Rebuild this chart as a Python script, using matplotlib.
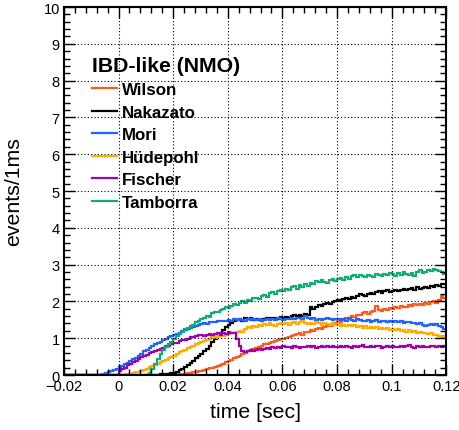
import matplotlib
matplotlib.use('Agg')
import matplotlib.pyplot as plt
import numpy as np
from matplotlib.ticker import MultipleLocator, AutoMinorLocator

plt.rcParams['font.family'] = ['Liberation Sans', 'DejaVu Sans']

# 1 ms bins from -20 ms to 120 ms
bin_edges = np.round(np.arange(-20, 121) * 0.001, 4)

wilson = [0.0] * 40 + [
    0.01, 0.01, 0.02, 0.03, 0.04, 0.05, 0.06, 0.08, 0.09, 0.11,
    0.12, 0.14, 0.16, 0.18, 0.20, 0.22, 0.25, 0.28, 0.31, 0.34,
    0.37, 0.41, 0.45, 0.49, 0.53, 0.57, 0.60, 0.64, 0.68, 0.71,
    0.74, 0.77, 0.80, 0.83, 0.85, 0.88, 0.90, 0.92, 0.95, 0.97,
    0.99, 1.01, 1.04, 1.06, 1.08, 1.11, 1.13, 1.10, 1.16, 1.18,
    1.21, 1.19, 1.24, 1.27, 1.25, 1.30, 1.34, 1.32, 1.38, 1.42,
    1.46, 1.44, 1.50, 1.55, 1.53, 1.60, 1.58, 1.64, 1.62, 1.68,
    1.72, 1.66, 1.70, 1.74, 1.88, 1.76, 1.73, 1.79, 1.77, 1.82,
    1.80, 1.85, 1.83, 1.88, 1.86, 1.84, 1.90, 1.87, 1.92, 1.89,
    1.94, 1.91, 1.96, 1.93, 1.98, 2.01, 1.97, 2.03, 2.16, 2.09]

nakazato = [0.0] * 33 + [
    0.01, 0.01, 0.02, 0.02, 0.03, 0.04, 0.05,
    0.06, 0.09, 0.13, 0.17, 0.22, 0.27, 0.33, 0.39, 0.45, 0.51,
    0.57, 0.64, 0.72, 0.80, 0.90, 0.98, 1.06, 1.14, 1.22, 1.30,
    1.36, 1.42, 1.46, 1.50, 1.52, 1.48, 1.54, 1.51, 1.55, 1.50,
    1.53, 1.50, 1.47, 1.52, 1.55, 1.51, 1.54, 1.56, 1.53, 1.57,
    1.55, 1.58, 1.56, 1.60, 1.62, 1.59, 1.63, 1.61, 1.66, 1.64,
    1.84, 1.80, 1.86, 1.90, 1.87, 1.93, 1.96, 1.92, 1.99, 2.02,
    2.04, 2.01, 2.07, 2.10, 2.06, 2.12, 2.09, 2.14, 2.21, 2.17,
    2.15, 2.19, 2.24, 2.20, 2.26, 2.28, 2.23, 2.27, 2.30, 2.26,
    2.29, 2.32, 2.28, 2.31, 2.35, 2.30, 2.33, 2.36, 2.32, 2.38,
    2.34, 2.37, 2.40, 2.36, 2.42, 2.39, 2.44, 2.41, 2.46, 2.48]

mori = [0.0] * 14 + [
    0.02, 0.05, 0.08, 0.11, 0.14, 0.17,
    0.21, 0.24, 0.29, 0.33, 0.38, 0.44, 0.47, 0.53, 0.58, 0.64,
    0.68, 0.73, 0.79, 0.83, 0.86, 0.91, 0.95, 0.98, 1.02, 1.05,
    1.08, 1.12, 1.14, 1.19, 1.22, 1.24, 1.28, 1.31, 1.33, 1.36,
    1.38, 1.40, 1.39, 1.43, 1.45, 1.44, 1.47, 1.46, 1.48, 1.47,
    1.50, 1.48, 1.51, 1.49, 1.52, 1.50, 1.48, 1.51, 1.50, 1.52,
    1.49, 1.51, 1.48, 1.50, 1.53, 1.49, 1.51, 1.50, 1.54, 1.52,
    1.50, 1.53, 1.51, 1.55, 1.52, 1.54, 1.56, 1.53, 1.59, 1.55,
    1.52, 1.54, 1.50, 1.53, 1.49, 1.51, 1.55, 1.52, 1.50, 1.53,
    1.51, 1.49, 1.52, 1.48, 1.55, 1.50, 1.47, 1.51, 1.49, 1.46,
    1.48, 1.50, 1.45, 1.47, 1.49, 1.44, 1.46, 1.48, 1.45, 1.47,
    1.44, 1.47, 1.43, 1.46, 1.42, 1.45, 1.43, 1.40, 1.42, 1.38,
    1.40, 1.36, 1.34, 1.37, 1.39, 1.35, 1.38, 1.34, 1.31, 1.26]

huedepohl = [0.0] * 20 + [
    0.00, 0.01, 0.02, 0.03, 0.04, 0.05, 0.07, 0.09, 0.11, 0.14,
    0.17, 0.21, 0.24, 0.27, 0.31, 0.34, 0.38, 0.42, 0.45, 0.48,
    0.52, 0.56, 0.62, 0.66, 0.69, 0.74, 0.76, 0.80, 0.84, 0.86,
    0.90, 0.92, 0.96, 0.98, 1.02, 1.00, 1.05, 1.08, 1.06, 1.10,
    1.12, 1.15, 1.13, 1.18, 1.20, 1.17, 1.24, 1.31, 1.27, 1.34,
    1.30, 1.36, 1.33, 1.38, 1.35, 1.40, 1.37, 1.34, 1.39, 1.41,
    1.38, 1.42, 1.36, 1.40, 1.44, 1.39, 1.43, 1.46, 1.41, 1.38,
    1.42, 1.39, 1.44, 1.40, 1.37, 1.42, 1.38, 1.35, 1.40, 1.36,
    1.38, 1.34, 1.37, 1.33, 1.36, 1.32, 1.35, 1.30, 1.33, 1.29,
    1.32, 1.28, 1.31, 1.27, 1.30, 1.25, 1.28, 1.24, 1.27, 1.23,
    1.25, 1.21, 1.24, 1.20, 1.22, 1.18, 1.21, 1.17, 1.19, 1.15,
    1.17, 1.13, 1.15, 1.11, 1.13, 1.09, 1.10, 1.06, 1.03, 1.05]

fischer = [0.0] * 20 + [
    0.12, 0.16, 0.20, 0.26, 0.30, 0.35, 0.39, 0.44, 0.48, 0.52,
    0.55, 0.60, 0.63, 0.66, 0.69, 0.72, 0.74, 0.78, 0.80, 0.84,
    0.86, 0.88, 0.92, 0.94, 0.96, 0.99, 1.02, 1.04, 1.06, 1.08,
    1.09, 1.07, 1.10, 1.12, 1.08, 1.11, 1.13, 1.10, 1.14, 1.12,
    1.16, 1.13, 1.15, 0.98, 0.80, 0.66, 0.63, 0.66, 0.68, 0.65,
    0.69, 0.71, 0.68, 0.72, 0.74, 0.71, 0.75, 0.73, 0.76, 0.74,
    0.78, 0.75, 0.77, 0.74, 0.79, 0.76, 0.73, 0.77, 0.75, 0.78,
    0.76, 0.79, 0.74, 0.77, 0.80, 0.76, 0.78, 0.75, 0.79, 0.77,
    0.75, 0.78, 0.76, 0.80, 0.77, 0.74, 0.79, 0.76, 0.78, 0.81,
    0.77, 0.75, 0.79, 0.76, 0.80, 0.78, 0.74, 0.77, 0.79, 0.76,
    0.80, 0.77, 0.75, 0.79, 0.76, 0.78, 0.81, 0.77, 0.74, 0.78,
    0.76, 0.79, 0.77, 0.75, 0.78, 0.80, 0.76, 0.79, 0.77, 0.80]

tamborra = [0.0] * 31 + [
    0.06, 0.16, 0.30, 0.44, 0.57, 0.68, 0.76, 0.83, 0.90,
    0.98, 1.06, 1.12, 1.17, 1.24, 1.27, 1.33, 1.37, 1.43, 1.46,
    1.52, 1.55, 1.61, 1.58, 1.68, 1.72, 1.70, 1.78, 1.80, 1.84,
    1.82, 1.88, 1.92, 1.89, 1.97, 2.00, 1.96, 2.04, 2.01, 2.08,
    2.10, 2.06, 2.14, 2.18, 2.13, 2.22, 2.26, 2.20, 2.28, 2.31,
    2.27, 2.33, 2.30, 2.38, 2.41, 2.35, 2.44, 2.40, 2.48, 2.43,
    2.50, 2.46, 2.55, 2.52, 2.58, 2.54, 2.50, 2.57, 2.62, 2.56,
    2.60, 2.64, 2.59, 2.66, 2.62, 2.68, 2.71, 2.65, 2.72, 2.69,
    2.67, 2.73, 2.70, 2.66, 2.74, 2.71, 2.68, 2.75, 2.72, 2.77,
    2.74, 2.70, 2.76, 2.73, 2.79, 2.75, 2.72, 2.78, 2.68, 2.80,
    2.84, 2.77, 2.81, 2.86, 2.83, 2.88, 2.85, 2.82, 2.79, 2.74]

models = ['Wilson', 'Nakazato', 'Mori', 'Hüdepohl', 'Fischer', 'Tamborra']
series = [wilson, nakazato, mori, huedepohl, fischer, tamborra]
colors = ['#ff5a1a', '#000000', '#1f64ff', '#ffab00', '#a000b0', '#14aa78']

xticks = [-0.02, 0, 0.02, 0.04, 0.06, 0.08, 0.1, 0.12]
xtick_labels = ['\u22120.02', '0', '0.02', '0.04', '0.06', '0.08', '0.1', '0.12']

fig = plt.figure(figsize=(4.6, 4.31), dpi=100)
ax = fig.add_axes([0.139, 0.1276, 0.831, 0.8538])

handles = []
for name, vals, c in zip(models, series, colors):
    ax.stairs(vals, bin_edges, color=c, lw=1.6, label=name, baseline=None)
    handles.append(plt.Line2D([], [], color=c, lw=1.6, label=name))

ax.set_xlim(-0.02, 0.12)
ax.set_ylim(0, 10)
ax.set_xticks(xticks)
ax.set_xticklabels(xtick_labels)
ax.yaxis.set_major_locator(MultipleLocator(1))
ax.xaxis.set_minor_locator(AutoMinorLocator(5))
ax.yaxis.set_minor_locator(AutoMinorLocator(5))
ax.tick_params(which='both', direction='in', top=True, right=True,
               labelsize=10.5, width=1.0)
ax.tick_params(which='major', length=8, pad=3)
ax.tick_params(which='minor', length=4.3)
ax.grid(True, which='major', ls=(0, (1, 2)), color='black', lw=0.8)
for s in ax.spines.values():
    s.set_linewidth(1.5)

ax.set_xlabel('time [sec]', fontsize=15.3, labelpad=6)
ax.set_ylabel('events/1ms', fontsize=15.3)
ax.yaxis.set_label_coords(-0.107, 0.5)

leg = ax.legend(handles=handles, loc='upper left', bbox_to_anchor=(0.073, 0.867),
                frameon=False, borderpad=0, borderaxespad=0,
                handlelength=1.47, handletextpad=0.3, labelspacing=0.44,
                prop={'weight': 'bold', 'size': 12.2},
                title='IBD-like (NMO)',
                title_fontproperties={'weight': 'bold', 'size': 15.3},
                alignment='left')

fig.savefig('out.png', dpi=100)
